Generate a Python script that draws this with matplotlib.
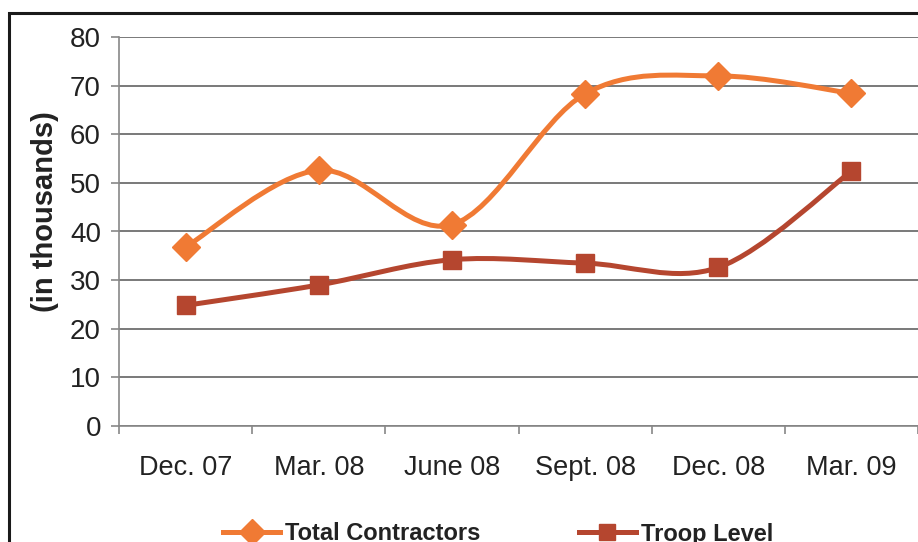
import numpy as np
import matplotlib
matplotlib.use("Agg")
import matplotlib.pyplot as plt
from matplotlib.path import Path
from matplotlib.patches import PathPatch, Rectangle
from matplotlib.lines import Line2D

plt.rcParams['font.family'] = ['Liberation Sans', 'DejaVu Sans']

# Data (in thousands)
periods = ["Dec. 07", "Mar. 08", "June 08", "Sept. 08", "Dec. 08", "Mar. 09"]
contractors = [36.8, 52.6, 41.4, 68.3, 72.0, 68.4]
troops = [24.8, 29.0, 34.2, 33.5, 32.6, 52.4]

orange = "#F07A34"
red = "#B5462F"


def smooth_path(x, y):
    # Excel-style smoothed line: Catmull-Rom as cubic Bezier segments
    pts = np.column_stack([x, y])
    verts = [pts[0]]
    codes = [Path.MOVETO]
    n = len(pts)
    for i in range(n - 1):
        p0 = pts[max(i - 1, 0)]
        p1 = pts[i]
        p2 = pts[i + 1]
        p3 = pts[min(i + 2, n - 1)]
        c1 = p1 + (p2 - p0) / 6.0
        c2 = p2 - (p3 - p1) / 6.0
        verts += [c1, c2, p2]
        codes += [Path.CURVE4] * 3
    return Path(verts, codes)


fig = plt.figure(figsize=(9.18, 5.42), dpi=100)
ax = fig.add_axes([119 / 918, 1 - 426 / 542, 799 / 918, 389 / 542])

x = np.arange(len(periods)) + 0.5

for vals, col, mk in [(contractors, orange, "D"), (troops, red, "s")]:
    ax.add_patch(PathPatch(smooth_path(x, vals), facecolor="none",
                           edgecolor=col, lw=3.6, capstyle="round", zorder=3))
    ax.plot(x, vals, linestyle="none", marker=mk, color=col,
            markersize=13 if mk == "s" else 14, zorder=4)

ax.set_xlim(0, 6)
ax.set_ylim(0, 80)
ax.set_yticks(range(0, 81, 10))
ax.yaxis.grid(True, color="#555555", lw=1.1)
ax.set_axisbelow(True)

ax.set_xticks(range(0, 7))
ax.set_xticklabels([])
ax.set_xticks(x, minor=True)
ax.set_xticklabels(periods, minor=True)
ax.tick_params(axis="x", which="minor", length=0, pad=21, labelsize=19.5,
               labelcolor="#222222")
ax.tick_params(axis="x", which="major", length=6, color="#888888", width=1.2)
ax.tick_params(axis="y", length=6, color="#888888", width=1.2, pad=7,
               labelsize=20, labelcolor="#222222")

for s in ["top", "right"]:
    ax.spines[s].set_visible(False)
for s in ["left", "bottom"]:
    ax.spines[s].set_color("#888888")
    ax.spines[s].set_linewidth(1.2)

fig.text(45 / 918, 1 - 212 / 542, "(in thousands)", rotation=90,
         ha="center", va="center", fontsize=21, fontweight="bold",
         color="#222222")

handles = [
    Line2D([], [], color=orange, lw=3.6, marker="D", markersize=13),
    Line2D([], [], color=red, lw=3.6, marker="s", markersize=12),
]
fig.legend(handles, ["Total Contractors", "Troop Level"], ncol=2,
           loc="center", bbox_to_anchor=(498 / 918, 1 - 534 / 542),
           frameon=False, handlelength=2.4, handletextpad=0.2,
           columnspacing=4.2, prop={"weight": "bold", "size": 17},
           labelcolor="#222222")

# outer frame (partly cut off at right and bottom)
fig.patches.append(Rectangle((9 / 918, -0.2), 1.2, 0.2 + 1 - 13 / 542,
                             transform=fig.transFigure, fill=False,
                             edgecolor="#1a1a1a", lw=2.2, clip_on=False))

fig.savefig("out.png", dpi=100)
